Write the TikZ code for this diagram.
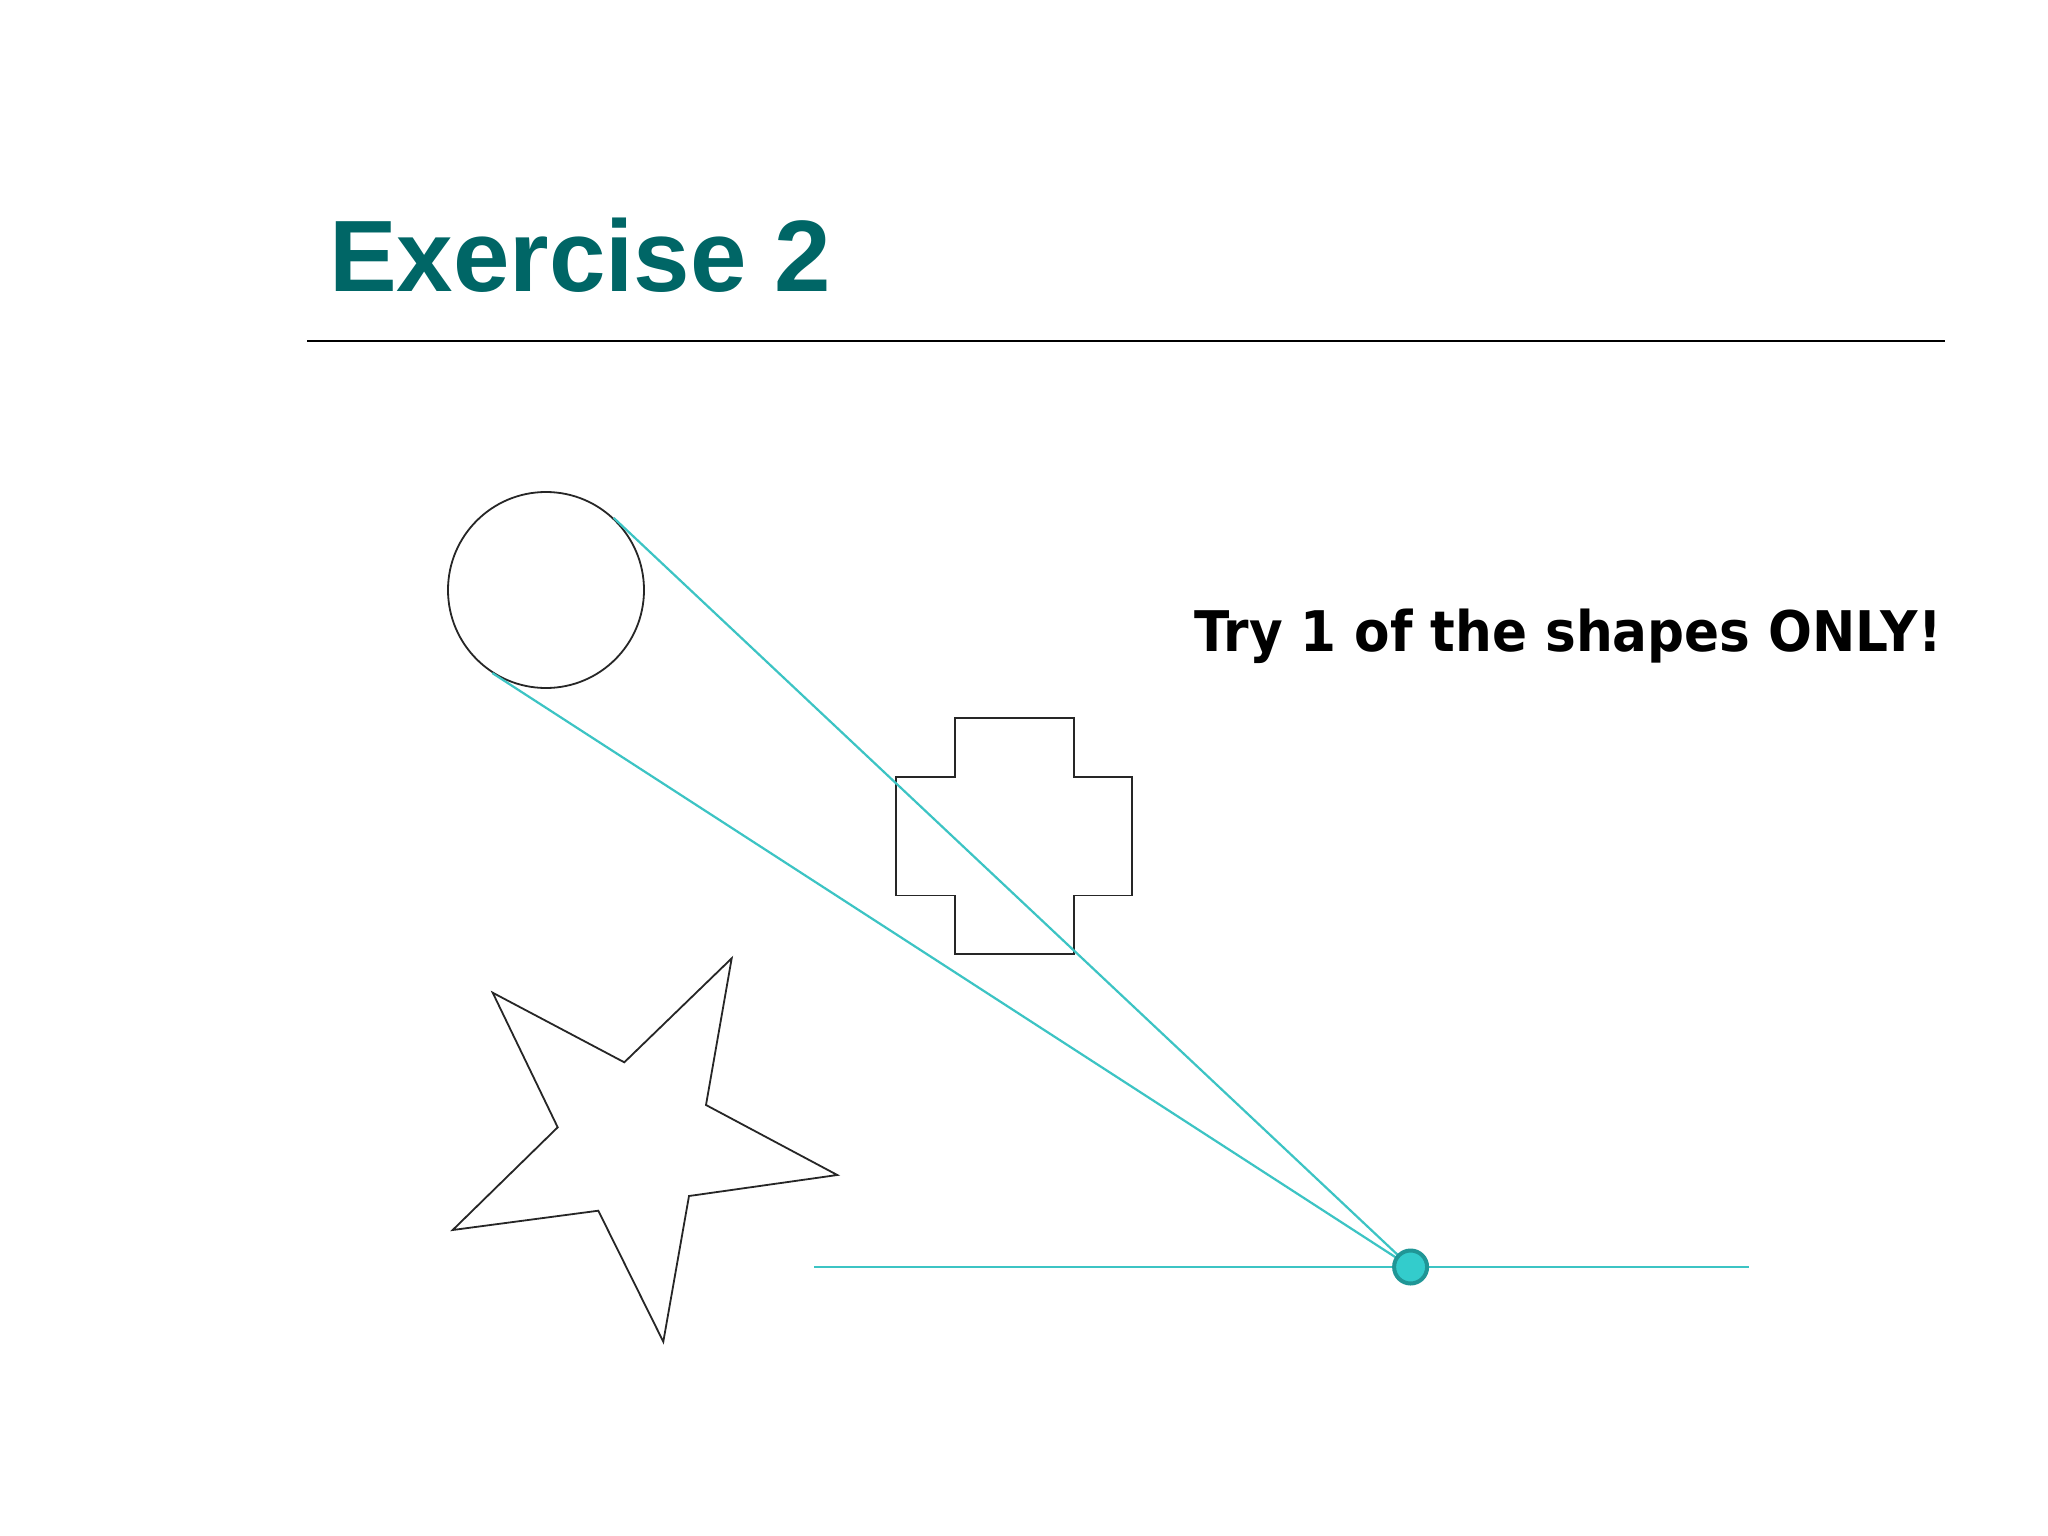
\documentclass[tikz,border=0pt]{standalone}
\usepackage{fontspec}
\setmainfont{Liberation Sans}
\newfontfamily\vfont{DejaVu Sans}
\usetikzlibrary{calc}
\definecolor{titleteal}{RGB}{0,102,102}
\definecolor{cyanline}{RGB}{60,196,196}
\definecolor{dotfill}{RGB}{51,204,204}
\definecolor{dotedge}{RGB}{32,150,150}
\begin{document}
\begin{tikzpicture}[x=1bp,y=-1bp,
  shapeline/.style={draw=black!85, line width=1.8bp, line join=miter},
  ray/.style={draw=cyanline, line width=2.2bp}]
\fill[white] (0,0) rectangle (2048,1536);
\useasboundingbox (0,0) rectangle (2048,1536);
% title and rule
\node[anchor=base west, inner sep=0, text=titleteal, font=\fontsize{101.5bp}{110bp}\selectfont\bfseries] (title) at (329,291) {Exercise 2};
\coordinate (rl) at (307,341);
\coordinate (rr) at (1945,341);
\draw[line width=2.8bp] (rl) -- (rr);
% note
\node[anchor=base west, inner sep=0, font=\vfont\bfseries\fontsize{56bp}{60bp}\selectfont] (note) at (1194,651) {\scalebox{0.923}[1]{Try 1 of the shapes ONLY!}};
% circle
\node[circle, shapeline, minimum size=196bp, inner sep=0] (ball) at (546,590) {};
% cross
\draw[shapeline] (954.7,718.3) -- (1074,718.3) -- (1074,777) -- (1132.3,777) -- (1132.3,895.5) -- (1074,895.5) -- (1074,954) -- (954.7,954) -- (954.7,895.5) -- (896,895.5) -- (896,777) -- (954.7,777) -- cycle;
% star
\draw[shapeline] (492.7,992.7) -- (624.3,1062.3) -- (731.7,958.3) -- (706,1105) -- (837.3,1175) -- (689,1196) -- (663.3,1341.7) -- (598.3,1210.7) -- (452.7,1230) -- (557.7,1127.3) -- cycle;
% ground line and rays
\coordinate (pc) at (1410.6,1267);
\coordinate (hl) at (814,1267);
\coordinate (hr) at (1749,1267);
\draw[ray] (hl) -- (hr);
\coordinate (t1) at (tangent cs:node=ball,point={(pc)},solution=1);
\coordinate (t2) at (tangent cs:node=ball,point={(pc)},solution=2);
\draw[ray] (t1) -- (pc);
\draw[ray] (t2) -- (pc);
\node[circle, fill=dotfill, draw=dotedge, line width=4bp, minimum size=33bp, inner sep=0] (p) at (pc) {};
\end{tikzpicture}
\end{document}
